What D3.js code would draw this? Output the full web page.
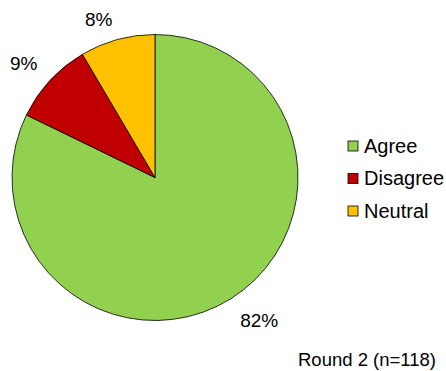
<!DOCTYPE html>
<html>
<head>
<meta charset="utf-8">
<script src="https://cdn.jsdelivr.net/npm/d3@7"></script>
<style>
  html, body { margin: 0; padding: 0; background: #fff; }
  svg { display: block; font-family: "Liberation Sans", Arial, sans-serif; }
</style>
</head>
<body>
<svg id="chart" width="446" height="371"></svg>
<script>
// Survey responses, Round 2 (n = 118)
const categories = ["Agree", "Disagree", "Neutral"];
const counts = [97, 11, 10];
const percentLabels = ["82%", "9%", "8%"];
const colors = ["#92D050", "#C00000", "#FFC000"];
const footnote = "Round 2 (n=118)";

const svg = d3.select("#chart");
const cx = 155, cy = 177.5, radius = 143;

const pie = d3.pie().sort(null).value(d => d.value);
const data = categories.map((c, i) => ({ name: c, value: counts[i], label: percentLabels[i], color: colors[i] }));
const arcs = pie(data);

const arc = d3.arc().innerRadius(0).outerRadius(radius);
const labelArc = d3.arc().innerRadius(172).outerRadius(172);
// small nudges so the outside labels clear the rim like the best-fit placement
const labelNudge = { Agree: [13, -3], Disagree: [-5, 3], Neutral: [-11, 8] };

const g = svg.append("g").attr("transform", `translate(${cx},${cy})`);

g.selectAll("path.slice")
  .data(arcs)
  .enter().append("path")
  .attr("class", "slice")
  .attr("d", arc)
  .attr("fill", d => d.data.color)
  .attr("stroke", "#000")
  .attr("stroke-width", 0.8)
  .attr("stroke-linejoin", "round");

g.selectAll("text.pct")
  .data(arcs)
  .enter().append("text")
  .attr("class", "pct")
  .attr("transform", d => {
    const [x, y] = labelArc.centroid(d);
    const [nx, ny] = labelNudge[d.data.name];
    return `translate(${x + nx},${y + ny})`;
  })
  .attr("text-anchor", "middle")
  .attr("dy", "0.35em")
  .attr("font-size", 19)
  .attr("fill", "#000")
  .text(d => d.data.label);

// Legend
const legend = svg.append("g").attr("transform", "translate(348,141)");
const rowStep = 32.5;
const rows = legend.selectAll("g.row")
  .data(data)
  .enter().append("g")
  .attr("class", "row")
  .attr("transform", (d, i) => `translate(0,${i * rowStep})`);

rows.append("rect")
  .attr("width", 10)
  .attr("height", 10)
  .attr("fill", d => d.color)
  .attr("stroke", "#000")
  .attr("stroke-width", 0.8);

rows.append("text")
  .attr("x", 16)
  .attr("y", 11.5)
  .attr("font-size", 20)
  .attr("fill", "#000")
  .text(d => d.name);

svg.append("text")
  .attr("x", 298)
  .attr("y", 366)
  .attr("font-size", 18.5)
  .attr("fill", "#000")
  .text(footnote);
</script>
</body>
</html>
